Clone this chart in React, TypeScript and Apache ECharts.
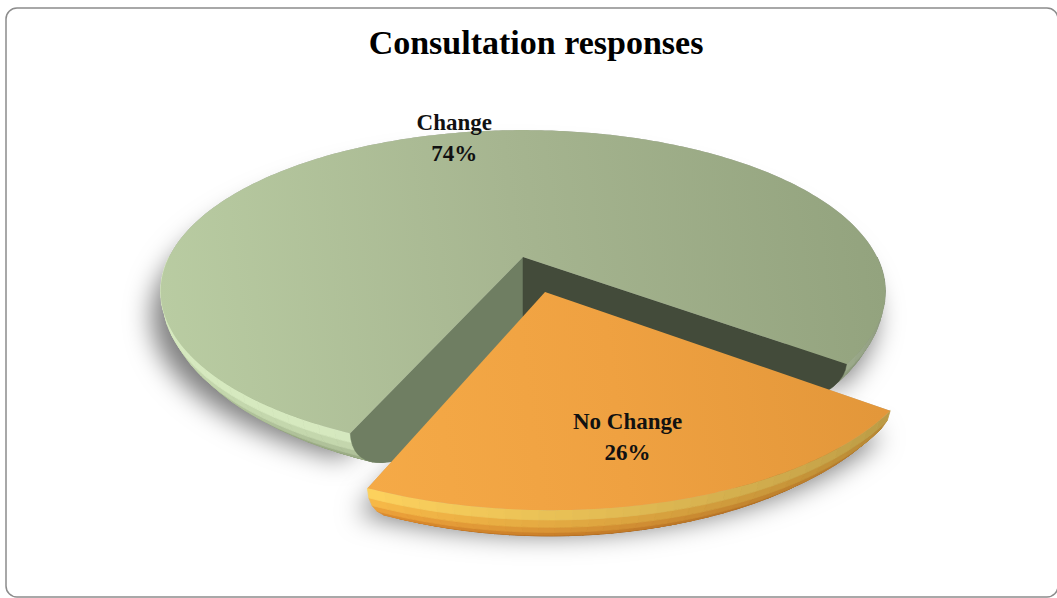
import React, { useEffect, useRef } from "react";
import * as echarts from "echarts";

// ---- data ----
const categories = ["Change", "No Change"];
const values = [74, 26];
const titleText = "Consultation responses";

// ---- view / projection constants (not data) ----
const CX = 523;
const CY = 257;
const FOCAL = 354;
const SIN_T = 0.435;
const COS_T = Math.sqrt(1 - SIN_T * SIN_T);
const PERSP = 0.237;
const THICK = 0.22; // depth of the pie (relative to radius)
const RB = 0.75; // radius of the bottom face (rounded underside)
const WARP = 1.437;
const START_DEG = 121.5;
const EXPLODE = [0, 0.225];
const LABEL_R = [1.0, 0.73];
const LABEL_NUDGE = [
  [-14, 6],
  [18, 0],
];
const FONT = '"Liberation Serif", "DejaVu Serif", serif';

const PALETTE = [
  {
    top: ["#b9cca2", "#a6b590", "#93a37e"],
    topFrom: [165, 340],
    topTo: [880, 250],
    sideA: "#6f7e62",
    sideB: "#434b3a",
    bands: ["#d6e9bf", "#c4d7ad", "#b0c29a", "#9cad86", "#899a74", "#788764", "#6a7858", "#5e6b4e"],
  },
  {
    top: ["#f5aa47", "#efa141", "#e3973a"],
    topFrom: [360, 470],
    topTo: [880, 400],
    sideA: "#b06a1e",
    sideB: "#7a4a14",
    bands: ["#ffd35e", "#f9ba48", "#eea23a", "#de8d2f", "#c97a25", "#b36a1f", "#9e5d1a", "#8c5216"],
  },
];

const TAU = Math.PI * 2;

function proj(x: number, y: number, z: number): number[] {
  const d = 1 - PERSP * (z * COS_T + y * SIN_T);
  return [CX + (FOCAL * x) / d, CY + (FOCAL * (z * SIN_T - y * COS_T)) / d];
}

function warp(t: number): number {
  let d = Math.atan2(WARP * Math.sin(t), Math.cos(t)) - t;
  d = ((((d + Math.PI) % TAU) + TAU) % TAU) - Math.PI;
  return t + d;
}

function total(): number {
  return values.reduce((a, b) => a + b, 0);
}

function sliceAngles(i: number): number[] {
  const tot = total();
  let before = 0;
  for (let k = 0; k < i; k++) before += values[k];
  const a0 = (START_DEG * Math.PI) / 180 + (before / tot) * TAU;
  const a1 = a0 + (values[i] / tot) * TAU;
  return [a0, a1];
}

function offset(i: number): number[] {
  const [a0, a1] = sliceAngles(i);
  const am = (a0 + a1) / 2;
  const e = EXPLODE[i] || 0;
  return [e * Math.cos(am), e * Math.sin(am)];
}

// u = 0 top surface, u = 1 bottom surface
function profile(u: number): number {
  return 1 - (1 - RB) * u * u;
}

function pt(i: number, t: number, u: number, rho = 1): number[] {
  const [ox, oz] = offset(i);
  const w = warp(t);
  const r = rho * profile(u);
  return proj(ox + r * Math.cos(w), -THICK * u, oz + r * Math.sin(w));
}

function apexPt(i: number, u: number): number[] {
  const [ox, oz] = offset(i);
  return proj(ox, -THICK * u, oz);
}

function arcPts(i: number, t0: number, t1: number, u: number): number[][] {
  const n = Math.max(2, Math.ceil(Math.abs(t1 - t0) / (Math.PI / 180)));
  const pts: number[][] = [];
  for (let k = 0; k <= n; k++) {
    pts.push(pt(i, t0 + ((t1 - t0) * k) / n, u));
  }
  return pts;
}

function frontRanges(a0: number, a1: number): number[][] {
  const out: number[][] = [];
  const k0 = Math.floor(a0 / TAU) - 1;
  const k1 = Math.ceil(a1 / TAU) + 1;
  for (let k = k0; k <= k1; k++) {
    const lo = Math.max(a0, TAU * k);
    const hi = Math.min(a1, TAU * k + Math.PI);
    if (hi > lo) out.push([lo, hi]);
  }
  return out;
}

function hexToRgb(h: string): number[] {
  const v = parseInt(h.slice(1), 16);
  return [(v >> 16) & 255, (v >> 8) & 255, v & 255];
}

function darken(h: string, f: number): string {
  const [r, g, b] = hexToRgb(h);
  const k = 1 - f;
  return `rgb(${Math.round(r * k)},${Math.round(g * k)},${Math.round(b * k)})`;
}

function wallDark(t: number): number {
  let w = warp(t) % TAU;
  if (w < 0) w += TAU;
  const deg = (w * 180) / Math.PI;
  if (deg > 180) return 0.4;
  return 0.4 * Math.max(0, Math.min(1, (115 - deg) / 115));
}

function renderShadow(params: any) {
  const i = params.dataIndex;
  const [a0, a1] = sliceAngles(i);
  const bottom = [apexPt(i, 1), ...arcPts(i, a0, a1, 1)];
  const top = [apexPt(i, 0), ...arcPts(i, a0, a1, 0)];
  return {
    type: "group",
    children: [
      {
        type: "polygon",
        shape: { points: top },
        style: {
          fill: "#b0b0b0",
          shadowBlur: 26,
          shadowColor: "rgba(0,0,0,0.5)",
          shadowOffsetX: -9,
          shadowOffsetY: 25,
        },
      },
      {
        type: "polygon",
        shape: { points: bottom },
        style: { fill: "#b0b0b0" },
      },
    ],
  };
}

function renderBody(params: any) {
  const i = params.dataIndex;
  const pal = PALETTE[i % PALETTE.length];
  const [a0, a1] = sliceAngles(i);
  const children: any[] = [];
  const nb = pal.bands.length;
  const step = (3 * Math.PI) / 180;

  // outer (rounded) walls: lower bands first so upper bands sit on top
  frontRanges(a0, a1).forEach(([lo, hi]) => {
    const ns = Math.max(1, Math.ceil((hi - lo) / step));
    for (let j = nb - 1; j >= 0; j--) {
      const u0 = j / nb;
      const u1 = (j + 1) / nb;
      for (let s = 0; s < ns; s++) {
        const ta = lo + ((hi - lo) * s) / ns;
        const tb = lo + ((hi - lo) * (s + 1)) / ns;
        const dk = wallDark((ta + tb) / 2);
        const pts = [...arcPts(i, ta, tb, u0), ...arcPts(i, ta, tb, u1).reverse()];
        const col = darken(pal.bands[j], dk);
        children.push({
          type: "polygon",
          shape: { points: pts },
          style: { fill: col, stroke: col, lineWidth: 0.8 },
        });
      }
    }
  });

  // radial walls
  const wall = (t: number, color: string) => {
    const pts: number[][] = [apexPt(i, 0)];
    const K = 12;
    for (let k = 0; k <= K; k++) pts.push(pt(i, t, k / K));
    pts.push(apexPt(i, 1));
    children.push({
      type: "polygon",
      shape: { points: pts },
      style: { fill: color, stroke: color, lineWidth: 0.5 },
    });
  };
  if (Math.cos(warp(a0)) < 0) wall(a0, pal.sideA);
  if (Math.cos(warp(a1)) > 0) wall(a1, pal.sideB);

  // top face
  const topPts = [apexPt(i, 0), ...arcPts(i, a0, a1, 0)];
  children.push({
    type: "polygon",
    shape: { points: topPts },
    style: {
      fill: new echarts.graphic.LinearGradient(
        pal.topFrom[0],
        pal.topFrom[1],
        pal.topTo[0],
        pal.topTo[1],
        [
          { offset: 0, color: pal.top[0] },
          { offset: 0.5, color: pal.top[1] },
          { offset: 1, color: pal.top[2] },
        ],
        true
      ),
    },
  });

  return { type: "group", children };
}

function renderLabel(params: any) {
  const i = params.dataIndex;
  const [a0, a1] = sliceAngles(i);
  const am = (a0 + a1) / 2;
  const p = pt(i, am, 0, LABEL_R[i]);
  const pct = Math.round((values[i] / total()) * 100);
  return {
    type: "text",
    style: {
      text: categories[i] + "\n" + pct + "%",
      x: p[0] + LABEL_NUDGE[i][0],
      y: p[1] + LABEL_NUDGE[i][1],
      align: "center",
      verticalAlign: "middle",
      fontFamily: FONT,
      fontWeight: "bold",
      fontSize: 23,
      lineHeight: 31,
      fill: "#111111",
    },
  };
}

export default function App() {
  const ref = useRef<HTMLDivElement>(null);

  useEffect(() => {
    if (!ref.current) return;
    const chart = echarts.init(ref.current, undefined, { renderer: "svg" });
    const data = values.map((v, i) => ({ value: v, name: categories[i] }));
    chart.setOption({
      animation: false,
      backgroundColor: "#ffffff",
      title: {
        text: titleText,
        left: 531,
        textAlign: "center",
        top: 20,
        textStyle: {
          fontFamily: FONT,
          fontWeight: "bold",
          fontSize: 34,
          color: "#000000",
        },
      },
      graphic: [
        {
          type: "rect",
          shape: { x: 6, y: 8, width: 1052, height: 589, r: 11 },
          style: { fill: "none", stroke: "#8c8c8c", lineWidth: 1.5 },
          silent: true,
          z: 0,
        },
      ],
      series: [
        { type: "custom", coordinateSystem: "none", silent: true, data, renderItem: renderShadow },
        { type: "custom", coordinateSystem: "none", silent: true, data, renderItem: renderBody },
        { type: "custom", coordinateSystem: "none", silent: true, data, renderItem: renderLabel },
      ],
    });
    return () => chart.dispose();
  }, []);

  return (
    <div
      ref={ref}
      style={{ position: "fixed", left: 0, top: 0, width: 1057, height: 598 }}
    />
  );
}
